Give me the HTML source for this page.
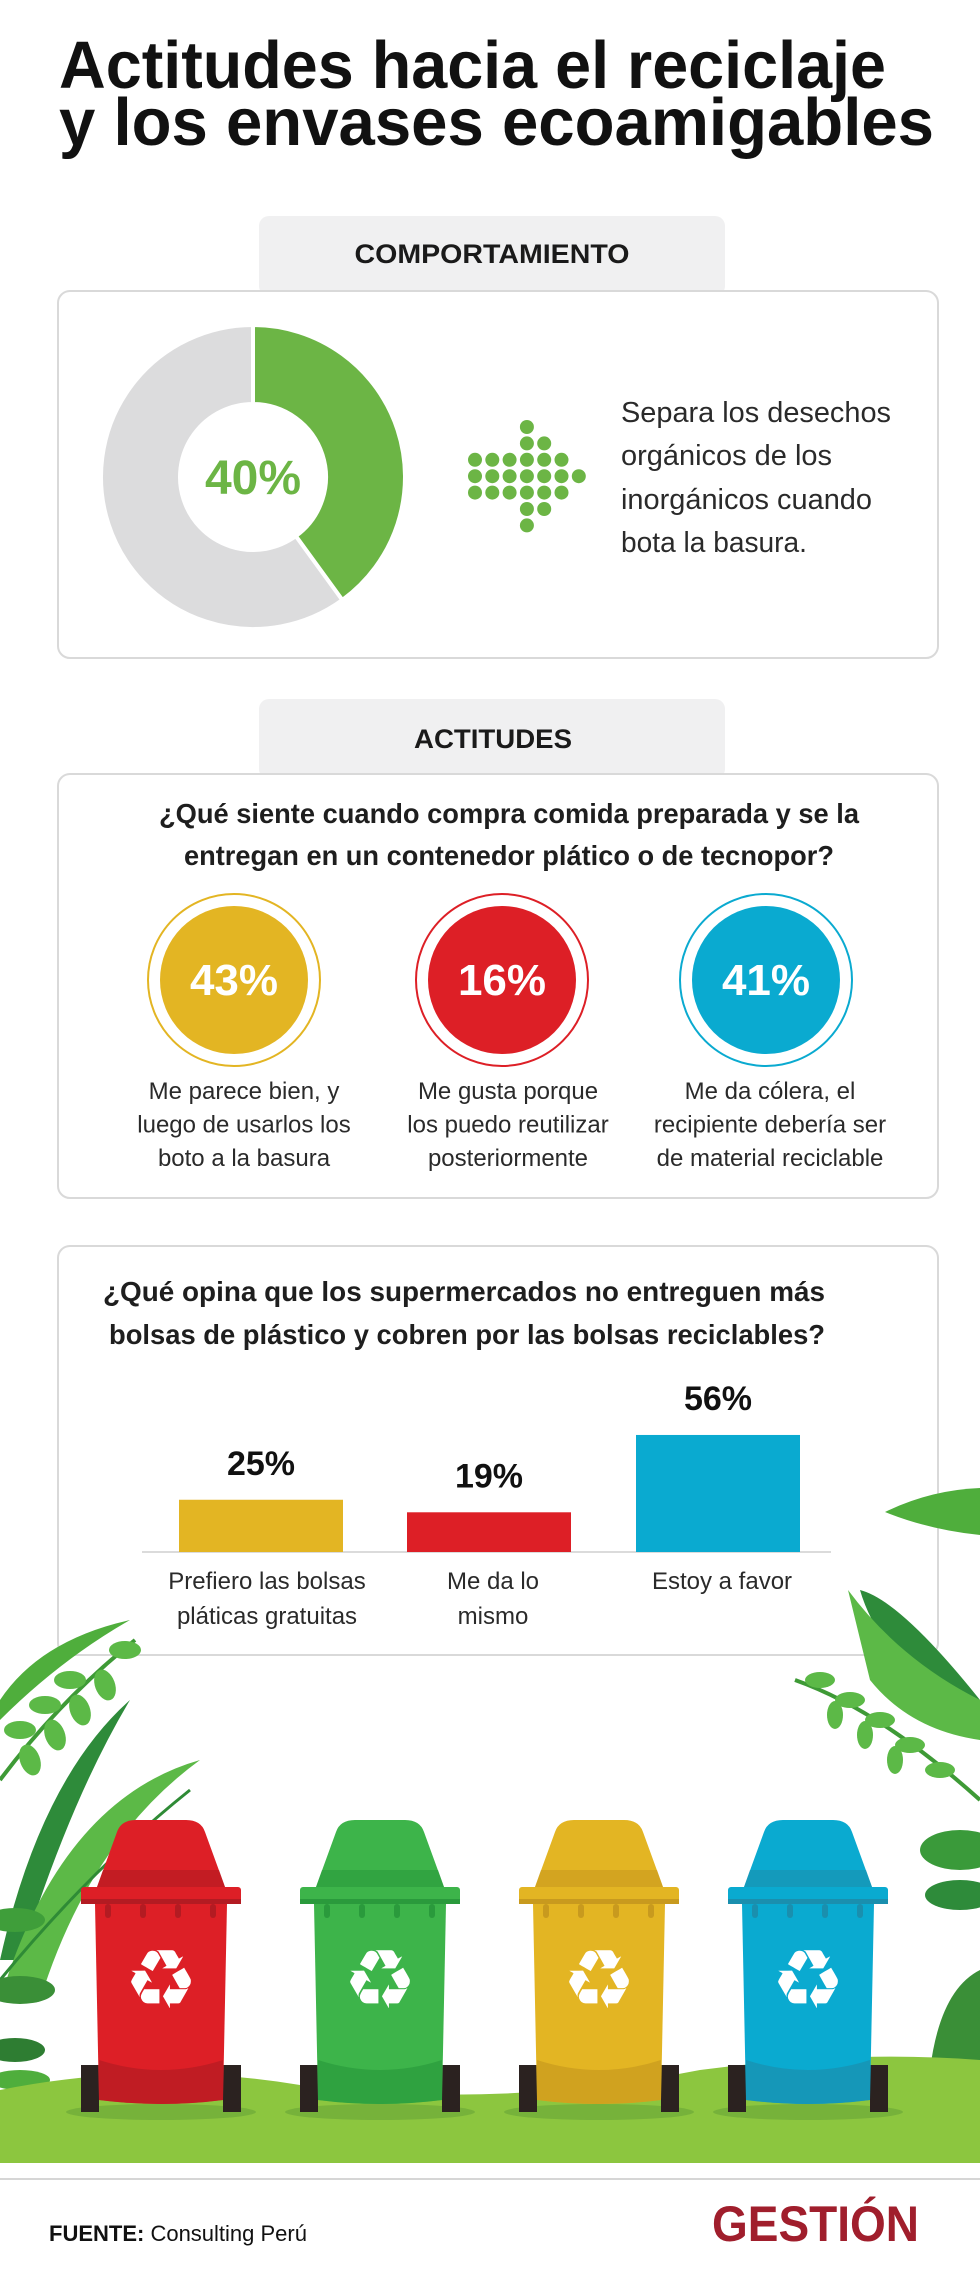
<!DOCTYPE html>
<html><head><meta charset="utf-8">
<style>
html,body{margin:0;padding:0;background:#fff;}
svg{display:block;}
text{font-family:"Liberation Sans",sans-serif;}
</style></head>
<body>
<svg id="page" width="980" height="2277" viewBox="0 0 980 2277" xmlns="http://www.w3.org/2000/svg">
<rect width="980" height="2277" fill="#fff"/>
<!-- Title -->
<g fill="#111" font-weight="bold" font-size="67">
<text x="59" y="88" textLength="827" lengthAdjust="spacingAndGlyphs">Actitudes hacia el reciclaje</text>
<text x="59" y="145" textLength="875" lengthAdjust="spacingAndGlyphs">y los envases ecoamigables</text>
</g>

<!-- Section 1 -->
<rect x="259" y="216" width="466" height="80" rx="10" fill="#f0f0f1"/>
<text x="492" y="263" text-anchor="middle" font-size="27" font-weight="bold" fill="#1a1a1a" textLength="275" lengthAdjust="spacingAndGlyphs">COMPORTAMIENTO</text>
<rect x="58" y="291" width="880" height="367" rx="12" fill="#fff" stroke="#d9d9d9" stroke-width="2"/>
<g id="donut"></g>
<g id="dots" fill="#6cb545"></g>
<g font-size="29" fill="#2a2a2a">
<text x="621" y="422" textLength="270" lengthAdjust="spacingAndGlyphs">Separa los desechos</text>
<text x="621" y="465" textLength="211" lengthAdjust="spacingAndGlyphs">orgánicos de los</text>
<text x="621" y="509" textLength="251" lengthAdjust="spacingAndGlyphs">inorgánicos cuando</text>
<text x="621" y="552" textLength="186" lengthAdjust="spacingAndGlyphs">bota la basura.</text>
</g>

<!-- Section 2 -->
<rect x="259" y="699" width="466" height="80" rx="10" fill="#f0f0f1"/>
<text x="493" y="748" text-anchor="middle" font-size="27" font-weight="bold" fill="#1a1a1a" textLength="158" lengthAdjust="spacingAndGlyphs">ACTITUDES</text>
<rect x="58" y="774" width="880" height="424" rx="12" fill="#fff" stroke="#d9d9d9" stroke-width="2"/>
<g font-size="28" font-weight="bold" fill="#1e1e1e">
<text x="509" y="823" text-anchor="middle" textLength="700" lengthAdjust="spacingAndGlyphs">¿Qué siente cuando compra comida preparada y se la</text>
<text x="509" y="865" text-anchor="middle" textLength="650" lengthAdjust="spacingAndGlyphs">entregan en un contenedor plático o de tecnopor?</text>
</g>
<g id="circles"></g>

<!-- Section 3 -->
<rect x="58" y="1246" width="880" height="409" rx="12" fill="#fff" stroke="#d9d9d9" stroke-width="2"/>
<g font-size="28" font-weight="bold" fill="#1e1e1e">
<text x="103" y="1301" textLength="722" lengthAdjust="spacingAndGlyphs">¿Qué opina que los  supermercados no  entreguen más</text>
<text x="109" y="1344" textLength="716" lengthAdjust="spacingAndGlyphs">bolsas de plástico  y cobren por las  bolsas reciclables?</text>
</g>
<g id="bars"></g>

<!-- Leaves -->
<g>
<path d="M0 1700 Q40 1640 130 1620 Q60 1660 0 1720Z" fill="#4fae3c"/>
<path d="M0 1780 Q60 1700 135 1640" stroke="#3e9a36" stroke-width="4" fill="none"/>
<g fill="#5cb947">
<ellipse cx="30" cy="1760" rx="10" ry="16" transform="rotate(-20 30 1760)"/>
<ellipse cx="55" cy="1735" rx="10" ry="16" transform="rotate(-20 55 1735)"/>
<ellipse cx="80" cy="1710" rx="10" ry="16" transform="rotate(-20 80 1710)"/>
<ellipse cx="105" cy="1685" rx="10" ry="16" transform="rotate(-20 105 1685)"/>
<ellipse cx="20" cy="1730" rx="16" ry="9"/>
<ellipse cx="45" cy="1705" rx="16" ry="9"/>
<ellipse cx="70" cy="1680" rx="16" ry="9"/>
<ellipse cx="125" cy="1650" rx="16" ry="9"/>
</g>
<path d="M0 1960 Q40 1780 130 1700 Q70 1800 20 1960Z" fill="#2e8b3a"/>
<path d="M0 2000 Q60 1800 200 1760 Q90 1840 40 2000Z" fill="#5cb947"/>
<path d="M0 1980 Q90 1870 190 1790" stroke="#2f8b36" stroke-width="3" fill="none"/>
<ellipse cx="15" cy="1920" rx="30" ry="12" fill="#3f9e3a"/>
<ellipse cx="20" cy="1990" rx="35" ry="14" fill="#3a8f37"/>
<ellipse cx="15" cy="2050" rx="30" ry="12" fill="#2e7d32"/>
<ellipse cx="20" cy="2080" rx="30" ry="10" fill="#4fae3c"/>
</g>
<g>
<path d="M885 1512 Q930 1490 980 1488 L980 1535 Q930 1530 885 1512Z" fill="#4fae3c"/>
<path d="M860 1590 Q900 1600 980 1700 L980 1740 Q880 1660 860 1590Z" fill="#2e8b3a"/>
<path d="M848 1590 Q900 1660 980 1700 L980 1740 Q910 1730 870 1680Z" fill="#5cb947"/>
<path d="M795 1680 Q880 1710 980 1800" stroke="#3e9a36" stroke-width="4" fill="none"/>
<g fill="#5cb947">
<ellipse cx="820" cy="1680" rx="15" ry="8"/>
<ellipse cx="850" cy="1700" rx="15" ry="8"/>
<ellipse cx="880" cy="1720" rx="15" ry="8"/>
<ellipse cx="910" cy="1745" rx="15" ry="8"/>
<ellipse cx="940" cy="1770" rx="15" ry="8"/>
<ellipse cx="835" cy="1715" rx="8" ry="14"/>
<ellipse cx="865" cy="1735" rx="8" ry="14"/>
<ellipse cx="895" cy="1760" rx="8" ry="14"/>
</g>
<ellipse cx="960" cy="1850" rx="40" ry="20" fill="#3a9a3a"/>
<ellipse cx="960" cy="1895" rx="35" ry="15" fill="#2e8b3a"/>
<path d="M930 2070 Q940 1990 980 1970 L980 2080Z" fill="#3a8f37"/>
</g>

<!-- Ground -->
<path d="M0 2090 Q150 2060 300 2085 Q500 2110 700 2070 Q850 2050 980 2060 L980 2163 L0 2163Z" fill="#8cc63f"/>
<g id="bins"></g>

<!-- Footer -->
<line x1="0" y1="2179" x2="980" y2="2179" stroke="#d6d6d6" stroke-width="2"/>
<text x="49" y="2241" font-size="22" fill="#111"><tspan font-weight="bold">FUENTE:</tspan> Consulting Perú</text>
<text x="712" y="2241" font-family="Liberation Serif, serif" font-weight="bold" font-size="50" fill="#a01e2c" textLength="207" lengthAdjust="spacingAndGlyphs">GESTIÓN</text>
</svg>
<script>
const NS='http://www.w3.org/2000/svg';
const donutValue=40;
const circleValues=[43,16,41];
const circleLabels=[["Me parece bien, y","luego de usarlos los","boto a la basura"],["Me gusta porque","los puedo reutilizar","posteriormente"],["Me da cólera, el","recipiente debería ser","de material reciclable"]];
const barCategories=[["Prefiero las bolsas","pláticas gratuitas"],["Me da lo","mismo"],["Estoy a favor"]];
const barValues=[25,19,56];
function mk(tag,attrs,parent){const e=document.createElementNS(NS,tag);for(const k in attrs)e.setAttribute(k,attrs[k]);parent.appendChild(e);return e;}

// Donut
(function(){
const g=document.getElementById('donut');const cx=253,cy=477,R=152,r=73;
const a=donutValue/100*2*Math.PI;
const pt=(rad,ang)=>[cx+rad*Math.sin(ang),cy-rad*Math.cos(ang)];
function arc(a0,a1){const l=(a1-a0)>Math.PI?1:0;const p0=pt(R,a0),p1=pt(R,a1),q1=pt(r,a1),q0=pt(r,a0);
return `M${p0[0]} ${p0[1]}A${R} ${R} 0 ${l} 1 ${p1[0]} ${p1[1]}L${q1[0]} ${q1[1]}A${r} ${r} 0 ${l} 0 ${q0[0]} ${q0[1]}Z`;}
const rest=mk('path',{d:arc(a,2*Math.PI),fill:'#dcdcdd',stroke:'#fff','stroke-width':4},g);


const seg=mk('path',{d:arc(0,a),fill:'#6cb545',stroke:'#fff','stroke-width':4},g);


const t=mk('text',{x:cx,y:cy+17,'text-anchor':'middle','font-size':48,'font-weight':'bold',fill:'#6cb545'},g);
t.textContent=donutValue+'%';


})();

// Dot arrow icon
(function(){
const g=document.getElementById('dots');
const rows=[[3],[3,4],[0,1,2,3,4,5],[0,1,2,3,4,5,6],[0,1,2,3,4,5],[3,4],[3]];
rows.forEach((cols,ri)=>cols.forEach(c=>{mk('circle',{cx:475+c*17.3,cy:427+ri*16.4,r:7},g);}));
})();

// Circles
(function(){
const g=document.getElementById('circles');
const xs=[234,502,766],cols=['#e3b523','#dd1f26','#0aaad0'];
circleValues.forEach((v,i)=>{
const ring=mk('circle',{cx:xs[i],cy:980,r:86,fill:'none',stroke:cols[i],'stroke-width':2},g);


const c=mk('circle',{cx:xs[i],cy:980,r:74,fill:cols[i]},g);


const t=mk('text',{x:xs[i],y:995,'text-anchor':'middle','font-size':44,'font-weight':'bold',fill:'#fff'},g);
t.textContent=v+'%';


circleLabels[i].forEach((ln,j)=>{
const l=mk('text',{x:xs[i]+(i==0?10:i==1?6:4),y:1099+j*33.5,'text-anchor':'middle','font-size':24,fill:'#2a2a2a'},g);
l.textContent=ln;


});
});
})();

// Bars
(function(){
const g=document.getElementById('bars');
const base=1552,scale=2.09,xs=[179,407,636],w=164,cols=['#e3b523','#dd1f26','#0aaad0'];
const y=v=>base-v*scale;
const ax=mk('line',{x1:142,y1:base,x2:831,y2:base,stroke:'#cfcfcf','stroke-width':1.5},g);


barValues.forEach((v,i)=>{
const b=mk('rect',{x:xs[i],y:y(v),width:w,height:base-y(v),fill:cols[i]},g);


const t=mk('text',{x:xs[i]+w/2,y:y(v)-25,'text-anchor':'middle','font-size':34,'font-weight':'bold',fill:'#111'},g);
t.textContent=v+'%';


barCategories[i].forEach((ln,j)=>{
const l=mk('text',{x:xs[i]+w/2+(i==0?6:4),y:1589+j*35,'text-anchor':'middle','font-size':24,fill:'#2a2a2a'},g);
l.textContent=ln;


});
});
})();

// Bins
(function(){
const g=document.getElementById('bins');
const xs=[81,300,519,728];
const main=['#dd1f26','#3db44a','#e3b523','#0aaad0'],dark=['#b31b22','#2a9a3c','#c89a1e','#1a8fae'];
xs.forEach((x,i)=>{
const b=mk('g',{},g);


mk('ellipse',{cx:x+80,cy:2112,rx:95,ry:8,fill:'#76b23a'},b);
mk('rect',{x:x+0,y:2065,width:18,height:47,fill:'#2b2220'},b);
mk('rect',{x:x+142,y:2065,width:18,height:47,fill:'#2b2220'},b);
mk('path',{d:`M${x+14} 1904 L${x+146} 1904 L${x+142} 2100 Q${x+80} 2108 ${x+18} 2100Z`,fill:main[i]},b);
mk('path',{d:`M${x+18} 2060 Q${x+80} 2080 ${x+142} 2060 L${x+142} 2100 Q${x+80} 2108 ${x+18} 2100Z`,fill:dark[i],opacity:0.7},b);
mk('path',{d:`M${x+16} 1887 L${x+36} 1832 Q${x+40} 1820 ${x+55} 1820 L${x+105} 1820 Q${x+120} 1820 ${x+124} 1832 L${x+144} 1887Z`,fill:main[i]},b);
mk('path',{d:`M${x+16} 1887 L${x+22} 1870 L${x+138} 1870 L${x+144} 1887Z`,fill:dark[i],opacity:0.6},b);
mk('rect',{x:x,y:1887,width:160,height:17,rx:3,fill:main[i]},b);
mk('rect',{x:x,y:1899,width:160,height:5,fill:dark[i]},b);
[0,1,2,3].forEach(k=>mk('rect',{x:x+24+k*35,y:1904,width:6,height:14,rx:3,fill:dark[i]},b));
const s=mk('text',{x:x+80,y:2008,'text-anchor':'middle','font-family':'DejaVu Sans, sans-serif','font-size':82,fill:'#fff'},b);
s.textContent='♻';


});
})();
</script>
</body></html>
